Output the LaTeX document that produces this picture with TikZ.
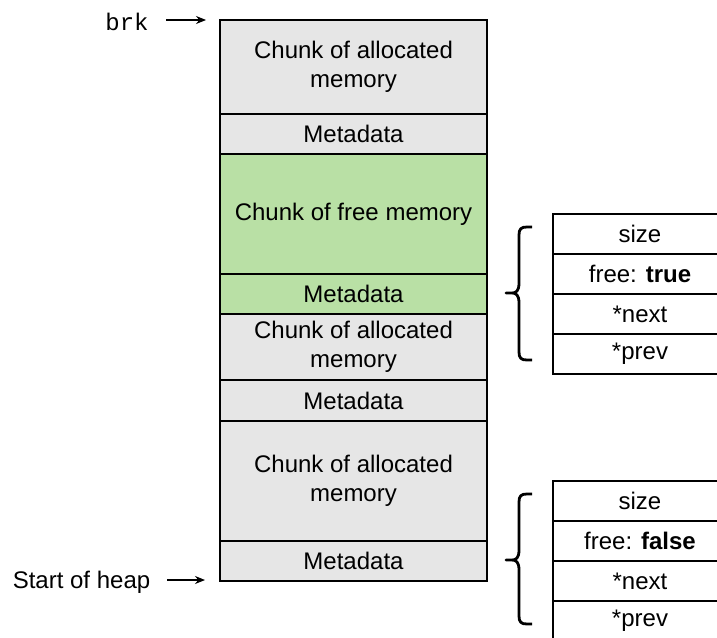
\documentclass[tikz,border=0pt]{standalone}
\usepackage{fontspec}
\setmainfont{Liberation Sans}
\setmonofont{Liberation Mono}
\usetikzlibrary{arrows.meta}
\definecolor{allocgray}{HTML}{E6E6E6}
\definecolor{freegreen}{HTML}{B9E0A5}
\begin{document}
\begin{tikzpicture}[x=0.5pt,y=-0.5pt, font=\fontsize{12}{14.4}\selectfont,
  cell/.style={draw=black, line width=0.7pt, rectangle, inner sep=0pt, outer sep=0pt, minimum width=133.5pt, align=center},
  alloc/.style={cell, fill=allocgray},
  freec/.style={cell, fill=freegreen},
  field/.style={draw=black, line width=0.7pt, fill=white, rectangle, minimum width=87pt, minimum height=20pt, inner sep=0pt, outer sep=0pt},
  ptr/.style={-{Stealth[length=5pt,width=4pt]}, line width=0.6pt},
  bracefig/.style={line width=1.4pt, line cap=butt, line join=round}]
\clip (0,0) rectangle (717,637);
% main heap column
\node[alloc, minimum height=47pt]   (a1) at (353.5,67)    {Chunk of allocated\\memory};
\node[alloc, minimum height=20pt]   (m1) at (353.5,134)   {Metadata};
\node[freec, minimum height=60pt]   (f1) at (353.5,214)   {Chunk of free memory};
\node[freec, minimum height=20pt]   (m2) at (353.5,294)   {Metadata};
\node[alloc, minimum height=33pt]   (a2) at (353.5,347)   {Chunk of allocated\\memory};
\node[alloc, minimum height=20.5pt] (m3) at (353.5,400.5) {Metadata};
\node[alloc, minimum height=60pt]   (a3) at (353.5,481)   {Chunk of allocated\\memory};
\node[alloc, minimum height=20pt]   (m4) at (353.5,561)   {Metadata};
% pointers
\node (brk) at (127,22) {\texttt{brk}};
\coordinate (brkA) at (166,20);
\coordinate (brkB) at (206,20);
\draw[ptr] (brkA) -- (brkB);
\node (start) at (81.5,582) {Start of heap};
\coordinate (stA) at (167,580);
\coordinate (stB) at (205,580);
\draw[ptr] (stA) -- (stB);
% metadata table (free)
\node[field] (s1) at (640,234) {size};
\node[field] (fr1) at (640,274) {free: \textbf{true}};
\node[field] (n1) at (640,314) {*next};
\node[field] (p1) at (640,354) {*prev};
% metadata table (allocated)
\node[field] (s2) at (640,501) {size};
\node[field] (fr2) at (640,541) {free: \textbf{false}};
\node[field] (n2) at (640,581) {*next};
\node[field] (p2) at (640,621) {*prev};
% braces
\coordinate (b1hi) at (532,227);
\coordinate (b1tip) at (506,293);
\coordinate (b1lo) at (532,360);
\draw[bracefig] (b1hi) -- (527,227) .. controls (521,227) and (519,229) .. (519,235)
  -- (519,283) .. controls (519,291) and (516,293) .. (512,293) -- (b1tip)
  -- (512,293) .. controls (516,293) and (519,295) .. (519,303)
  -- (519,352) .. controls (519,358) and (521,360) .. (527,360) -- (b1lo);
\coordinate (b2hi) at (532,494);
\coordinate (b2tip) at (506,560);
\coordinate (b2lo) at (532,624);
\draw[bracefig] (b2hi) -- (527,494) .. controls (521,494) and (519,496) .. (519,502)
  -- (519,550) .. controls (519,558) and (516,560) .. (512,560) -- (b2tip)
  -- (512,560) .. controls (516,560) and (519,562) .. (519,570)
  -- (519,616) .. controls (519,622) and (521,624) .. (527,624) -- (b2lo);
\end{tikzpicture}
\end{document}
